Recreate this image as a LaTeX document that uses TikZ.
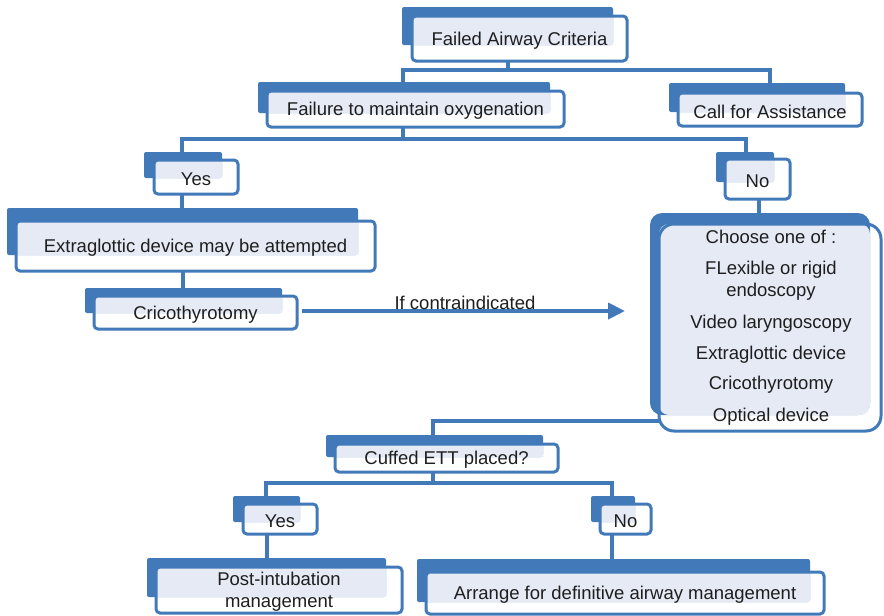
\documentclass[tikz,border=0pt]{standalone}
\usepackage{fontspec}
\setmainfont{Liberation Sans}
\usetikzlibrary{fit,arrows.meta}
\definecolor{boxblue}{RGB}{66,121,185}
\definecolor{boxlight}{RGB}{230,234,245}
\definecolor{ink}{RGB}{30,30,30}
\pgfdeclarelayer{wires}
\pgfdeclarelayer{backs}
\pgfdeclarelayer{tints}
\pgfsetlayers{wires,backs,tints,main}
\tikzset{
  backbox/.style={fill=boxblue, draw=none, inner sep=0pt, outer sep=0pt, rounded corners=2pt},
  frontbox/.style={draw=boxblue, line width=3pt, inner sep=0pt, outer sep=0pt, rounded corners=4pt,
    text=ink, font=\fontsize{18.5}{22}\selectfont, align=center},
  tint/.style={fill=boxlight},
  conn/.style={draw=boxblue, line width=3.5pt},
  bigarrow/.style={draw=boxblue, line width=4pt, -{Triangle[length=17pt,width=16pt]}},
  lbl/.style={text=ink, font=\fontsize{18.5}{22}\selectfont, inner sep=0pt, yshift=-2pt}
}
% one box: back panel, tinted overlap, outlined front panel with its text
\newcommand\airbox[4]{%
  \begin{pgfonlayer}{backs}\node[backbox, fit={#2}] (#1-b) {};\end{pgfonlayer}
  \node[frontbox, fit={#3}] (#1) {};
  \node[lbl, align=center] (#1-t) at (#1.center) {#4};
  \begin{pgfonlayer}{tints}\fill[tint] (#1.north west) rectangle (#1-b.south east);\end{pgfonlayer}
}
\begin{document}
\begin{tikzpicture}[x=1pt,y=-1pt]
\useasboundingbox (0,0) rectangle (884,616);

\airbox{crit}{(402,7) (613,45)}{(412,16) (627,61)}{Failed Airway Criteria}
\airbox{fail}{(258,82) (550,113)}{(267,91) (564,127)}{Failure to maintain oxygenation}
\airbox{call}{(669,83) (845,112)}{(678,93) (862,126)}{Call for Assistance}
\airbox{yesa}{(144,152) (222,178)}{(154,160) (238,194)}{Yes}
\airbox{noa}{(716,152) (774,182)}{(725,159) (790,199)}{No}
\airbox{extra}{(7,208) (358,255)}{(16,221) (375,271)}{Extraglottic device may be attempted}
\airbox{crico}{(85,288) (282,313)}{(94,296) (297,329)}{Cricothyrotomy}
\airbox{cuff}{(326,435) (543,457)}{(335,444) (558,472)}{Cuffed ETT placed?}
\airbox{yesb}{(233,496) (300,522)}{(243,504) (317,534)}{Yes}
\airbox{nob}{(591,496) (635,522)}{(600,504) (651,534)}{No}
\airbox{post}{(147,558) (386,597)}{(156,567) (402,613)}{\fontsize{18.5}{19.5}\selectfont Post-intubation\\management}
\airbox{arr}{(417,559) (810,602)}{(426,572) (824,614)}{Arrange for definitive airway management}

% options box, with larger rounding
\begin{pgfonlayer}{backs}\node[backbox, rounded corners=12pt, fit={(650,213) (870,415)}] (opts-b) {};\end{pgfonlayer}
\node[frontbox, rounded corners=15pt, fit={(659,224) (881,431)}] (opts) {};
\begin{pgfonlayer}{tints}\fill[tint, rounded corners=10pt] (opts.north west) rectangle (opts-b.south east);\end{pgfonlayer}
\node[lbl, align=center] (opts-t) at (771,326) {Choose one of :\\[9pt]FLexible or rigid\\endoscopy\\[10pt]Video laryngoscopy\\[9pt]Extraglottic device\\[8pt]Cricothyrotomy\\[10pt]Optical device};

% junctions of the tree
\coordinate (j0) at (508,70);
\coordinate (j0l) at (403,70);
\coordinate (j0r) at (770,70);
\coordinate (j1) at (403,139);
\coordinate (j1l) at (182,139);
\coordinate (j1r) at (746,139);
\coordinate (j2) at (433,421);
\coordinate (j3) at (433,483);
\coordinate (j3l) at (266,483);
\coordinate (j3r) at (612,483);

\begin{pgfonlayer}{wires}
\draw[conn] (crit.south -| j0) -- (j0);
\draw[conn] (fail-b.north -| j0l) -- (j0l) -- (j0r) -- (call-b.north -| j0r);
\draw[conn] (fail.south -| j1) -- (j1);
\draw[conn] (yesa-b.north -| j1l) -- (j1l) -- (j1r) -- (noa-b.north -| j1r);
\draw[conn] (yesa.south -| j1l) -- (extra-b.north -| j1l);
\draw[conn] (extra.south -| 183,0) -- (crico-b.north -| 183,0);
\draw[conn] (noa.south -| 759,0) -- (opts-b.north -| 759,0);
\draw[conn] (opts.west |- j2) -- (j2) -- (cuff-b.north -| j2);
\draw[conn] (cuff.south -| j3) -- (j3);
\draw[conn] (yesb-b.north -| j3l) -- (j3l) -- (j3r) -- (nob-b.north -| j3r);
\draw[conn] (yesb.south -| 267,0) -- (post-b.north -| 267,0);
\draw[conn] (nob.south -| j3r) -- (arr-b.north -| j3r);
\end{pgfonlayer}

% escalation arrow
\coordinate (aend) at (625,311);
\draw[bigarrow] (crico.east |- aend) ++(5,0) -- (aend);
\node[lbl] (contra) at (465,301) {If contraindicated};
\end{tikzpicture}
\end{document}
